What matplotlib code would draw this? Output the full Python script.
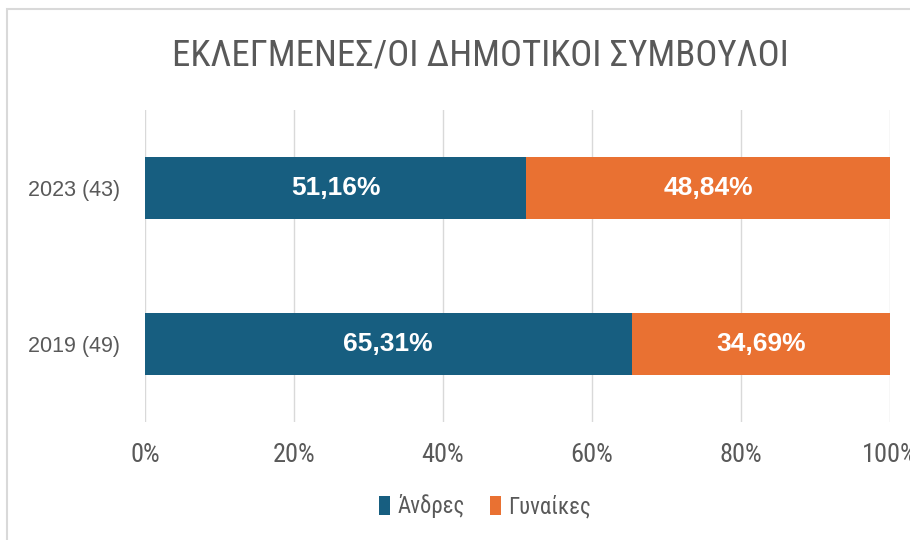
import matplotlib
matplotlib.use("Agg")
import matplotlib.pyplot as plt
from matplotlib import font_manager
from matplotlib.patches import Rectangle

# dane
kategorie = ['2019 (49)', '2023 (43)']
andres = [65.31, 51.16]
gynaikes = [34.69, 48.84]
etiketes = ['Άνδρες', 'Γυναίκες']
ticks = [0, 20, 40, 60, 80, 100]

c_blue = '#175E80'
c_orange = '#E97132'
c_text = '#595959'
c_grid = '#D9D9D9'

# waska czcionka, jesli jest
nazwy = {f.name for f in font_manager.fontManager.ttflist}
narrow = None
for n in ['Liberation Sans Narrow', 'Roboto Condensed', 'Open Sans Condensed', 'DejaVu Sans Condensed']:
    if n in nazwy:
        narrow = n
        break
narrow_kw = {'family': narrow} if narrow else {'family': 'DejaVu Sans', 'stretch': 'condensed'}

fig = plt.figure(figsize=(9.1, 5.4), dpi=100)
ax = fig.add_axes([145 / 910, 1 - 422 / 540, 745 / 910, 312 / 540])

# ramka wykresu
fig.patches.append(Rectangle((7 / 910, -0.1), 1.2, 1 - 9 / 540 + 0.1,
                             transform=fig.transFigure, fill=False,
                             edgecolor=c_grid, linewidth=1.5))

y = range(len(kategorie))
b1 = ax.barh(y, andres, height=0.4, color=c_blue, label=etiketes[0], zorder=2)
b2 = ax.barh(y, gynaikes, left=andres, height=0.4, color=c_orange,
             label=etiketes[1], zorder=2)

for bars, vals, lefts in [(b1, andres, [0, 0]), (b2, gynaikes, andres)]:
    for i, v in enumerate(vals):
        ax.text(lefts[i] + v / 2, i, f'{v:.2f}%'.replace('.', ','),
                ha='center', va='center', color='white', fontsize=19,
                fontweight='bold', family='Liberation Sans')

ax.set_xlim(0, 100)
ax.set_ylim(-0.5, 1.5)
ax.set_xticks(ticks)
ax.set_xticklabels([f'{t}%' for t in ticks], fontsize=19, color=c_text, **narrow_kw)
ax.set_yticks(list(y))
ax.set_yticklabels(kategorie, family='Liberation Sans', fontsize=15.5, color=c_text)
ax.tick_params(length=0)
ax.tick_params(axis='x', pad=15)
ax.tick_params(axis='y', pad=18)
ax.grid(axis='x', color=c_grid, linewidth=1, zorder=0)
for s in ax.spines.values():
    s.set_visible(False)

fig.text(480 / 910, 1 - 55 / 540, 'ΕΚΛΕΓΜΕΝΕΣ/ΟΙ ΔΗΜΟΤΙΚΟΙ ΣΥΜΒΟΥΛΟΙ',
         ha='center', va='center', fontsize=26.5, color=c_text, **narrow_kw)

prop = dict(narrow_kw)
prop['size'] = 16.5
fig.legend(handles=[b1, b2], loc='center', bbox_to_anchor=(485 / 910, 1 - 506 / 540),
           ncol=2, frameon=False, prop=prop,
           labelcolor=c_text, handlelength=0.5, handleheight=0.9, handletextpad=0.3,
           columnspacing=1.1)

fig.savefig('out.png', dpi=100)
